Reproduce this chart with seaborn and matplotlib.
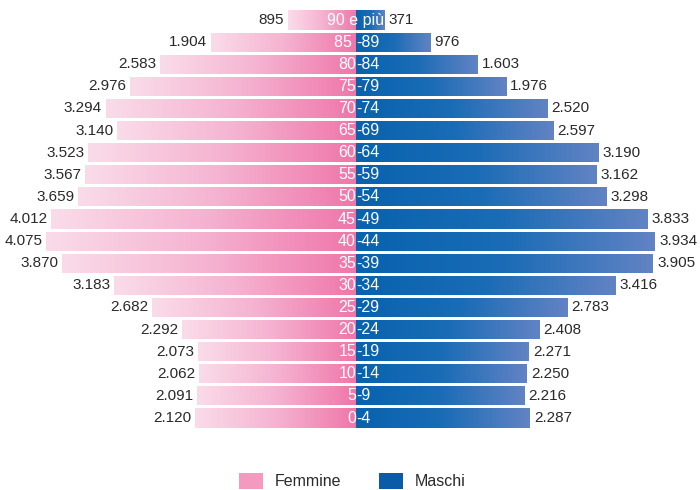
import numpy as np
import pandas as pd
import matplotlib
matplotlib.use("Agg")
import matplotlib.pyplot as plt
import seaborn as sns
from matplotlib.colors import LinearSegmentedColormap
from matplotlib.patches import Patch

ages = ["90 e più", "85 -89", "80-84", "75-79", "70-74", "65-69", "60-64", "55-59",
        "50-54", "45-49", "40-44", "35-39", "30-34", "25-29", "20-24", "15-19",
        "10-14", "5-9", "0-4"]
femmine = [895, 1904, 2583, 2976, 3294, 3140, 3523, 3567, 3659, 4012, 4075, 3870,
           3183, 2682, 2292, 2073, 2062, 2091, 2120]
maschi = [371, 976, 1603, 1976, 2520, 2597, 3190, 3162, 3298, 3833, 3934, 3905,
          3416, 2783, 2408, 2271, 2250, 2216, 2287]
legend_labels = ["Femmine", "Maschi"]

sns.set_theme(style="white")
plt.rcParams["font.family"] = ["Liberation Sans", "DejaVu Sans"]

df = pd.DataFrame({"eta": ages, "F": [-v for v in femmine], "M": maschi})

fig = plt.figure(figsize=(7, 4.9), dpi=100)
ax = fig.add_axes([0, 0, 1, 1])

sns.barplot(data=df, y="eta", x="F", order=ages, color="#f49ac1", width=0.86,
            orient="h", ax=ax, saturation=1)
sns.barplot(data=df, y="eta", x="M", order=ages, color="#0a5ca8", width=0.86,
            orient="h", ax=ax, saturation=1)

cm_f = LinearSegmentedColormap.from_list("f", ["#fadce9", "#f5b3d1", "#ef76a9"])
cm_m = LinearSegmentedColormap.from_list("m", ["#0862ae", "#1a6cb6", "#6283c4"])
grad = np.linspace(0, 1, 256).reshape(1, -1)

for p in list(ax.patches):
    x0, y0 = p.get_x(), p.get_y()
    w, h = p.get_width(), p.get_height()
    xa, xb = min(x0, x0 + w), max(x0, x0 + w)
    cm = cm_f if xb <= 0 else cm_m
    im = ax.imshow(grad, cmap=cm, aspect="auto", extent=[xa, xb, y0 + h, y0],
                   zorder=2, interpolation="bicubic")
    im.set_clip_path(p)
    p.set_zorder(1)

txt_col = "#2a2a2a"
fs = 11
for i, (a, f, m) in enumerate(zip(ages, femmine, maschi)):
    ax.text(-f - 50, i, f"{f:,}".replace(",", "."), ha="right", va="center",
            fontsize=fs, color=txt_col, zorder=5)
    ax.text(m + 55, i, f"{m:,}".replace(",", "."), ha="left", va="center",
            fontsize=fs, color=txt_col, zorder=5)
    if "-" in a:
        left, right = a.split("-")
        ax.text(0, i, left, ha="right", va="center", fontsize=11.5, color="white", zorder=5)
        ax.text(0, i, "-" + right, ha="left", va="center", fontsize=11.5, color="white", zorder=5)
    else:
        ax.text(0, i, a, ha="center", va="center", fontsize=11.5, color="white", zorder=5)

scale = 0.076
ax.set_xlim(-356 / scale, 344 / scale)
pitch = 398 / 18
ax.set_ylim(18 + (490 - 418) / pitch, -20 / pitch)
ax.axis("off")

handles = [Patch(facecolor="#f49ac1", edgecolor="none"),
           Patch(facecolor="#0a5ca8", edgecolor="none")]
fig.legend(handles, legend_labels, loc="center", bbox_to_anchor=(0.503, 1 - 481 / 490),
           ncol=2, frameon=False, fontsize=11.5, handlelength=1.5, handleheight=1.25,
           handletextpad=0.7, columnspacing=2.4, labelcolor=txt_col)

fig.savefig("out.png", dpi=100)
